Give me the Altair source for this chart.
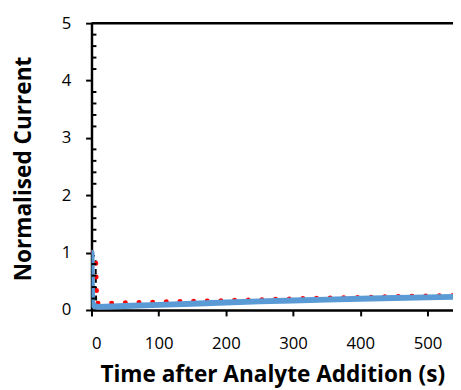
import altair as alt
import pandas as pd

# Blue solid series
blue_t = [0, 1, 4, 10, 30, 60, 100, 150, 200, 250, 300, 350, 400, 450, 500, 540]
blue_v = [1.0, 0.12, 0.07, 0.055, 0.06, 0.075, 0.09, 0.11, 0.13, 0.15, 0.165, 0.18, 0.195, 0.21, 0.22, 0.23]
# Red dotted series
red_t = [0, 6, 8, 30, 60, 100, 150, 200, 250, 300, 350, 400, 450, 500, 540]
red_v = [1.0, 0.98, 0.12, 0.12, 0.13, 0.14, 0.155, 0.165, 0.18, 0.195, 0.21, 0.22, 0.235, 0.245, 0.255]
# Black dashed series
black_t = [0, 6, 7, 30, 100, 200, 300, 400, 540]
black_v = [1.0, 0.9, 0.06, 0.06, 0.09, 0.13, 0.165, 0.195, 0.23]

x_ticks = [0, 100, 200, 300, 400, 500]
y_ticks = [0, 1, 2, 3, 4, 5]
y_minor = [round(0.2 * i, 1) for i in range(1, 25) if i % 5 != 0]

FONT = "Open Sans"

df_blue = pd.DataFrame({"t": blue_t, "v": blue_v})
df_red = pd.DataFrame({"t": red_t, "v": red_v})
df_black = pd.DataFrame({"t": black_t, "v": black_v})
df_minor = pd.DataFrame({"m": y_minor})

xscale = alt.Scale(domain=[0, 538], nice=False, zero=False)
yscale = alt.Scale(domain=[0, 5], nice=False)

xaxis = alt.Axis(
    values=x_ticks, title="Time after Analyte Addition (s)", grid=False, format="d",
    domainColor="black", domainWidth=2.5, tickColor="black", tickWidth=2, tickSize=6,
    labelFont=FONT, labelFontSize=17, labelColor="black", labelPadding=20,
    titleFont=FONT, titleFontSize=23, titleFontWeight="bold", titleColor="black",
    titleBaseline="alphabetic", titleY=73,
)
yaxis = alt.Axis(
    values=y_ticks, title="Normalised Current", grid=False, format="d",
    domainColor="black", domainWidth=2.5, tickColor="black", tickWidth=2, tickSize=6,
    labelFont=FONT, labelFontSize=17, labelColor="black", labelPadding=15,
    titleFont=FONT, titleFontSize=23, titleFontWeight="bold", titleColor="black",
    titleBaseline="middle", titleX=-69, titleY=148,
)

black = alt.Chart(df_black).mark_line(color="black", strokeWidth=2, strokeDash=[5, 4], clip=True).encode(
    x=alt.X("t:Q", scale=xscale, axis=xaxis),
    y=alt.Y("v:Q", scale=yscale, axis=yaxis),
)
red = alt.Chart(df_red).mark_line(color="#FF0000", strokeWidth=5, strokeDash=[0.1, 13.8], strokeCap="round", clip=True).encode(
    x=alt.X("t:Q", scale=xscale),
    y=alt.Y("v:Q", scale=yscale),
)
blue = alt.Chart(df_blue).mark_line(color="#5B9BD5", strokeWidth=6, strokeJoin="round", strokeCap="round", clip=True).encode(
    x=alt.X("t:Q", scale=xscale),
    y=alt.Y("v:Q", scale=yscale),
)
top = alt.Chart(pd.DataFrame({"y": [5]})).mark_rule(color="black", strokeWidth=2.5).encode(
    y=alt.Y("y:Q", scale=yscale)
)
minor = alt.Chart(df_minor).mark_rule(color="black", strokeWidth=2).encode(
    x=alt.value(0), x2=alt.value(5), y=alt.Y("m:Q", scale=yscale)
)

chart = alt.layer(black, red, blue, top, minor).properties(
    width=368, height=292,
    autosize=alt.AutoSizeParams(type="none"),
    padding={"left": 85, "top": 12, "right": 0, "bottom": 78},
).configure_view(stroke=None).configure(background="white")

chart.save("out.html", embed_options={"renderer": "svg", "actions": False})
